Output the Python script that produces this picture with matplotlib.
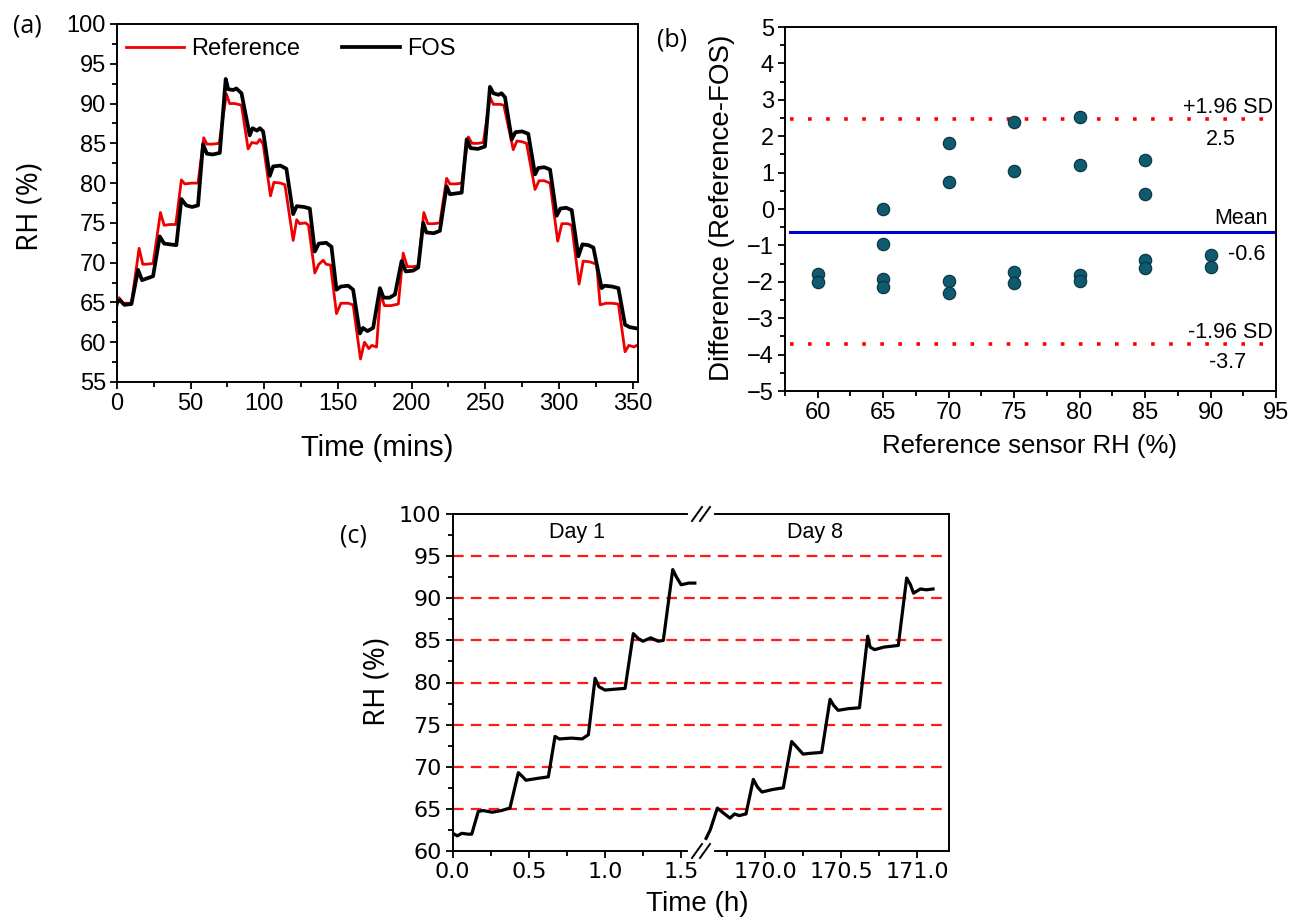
import matplotlib
matplotlib.use('Agg')
import matplotlib.pyplot as plt
from matplotlib.lines import Line2D
from matplotlib.ticker import MultipleLocator, FormatStrFormatter

plt.rcParams['font.family'] = ['Liberation Sans', 'DejaVu Sans']

# ---- panel (a): RH vs time, reference sensor and FOS ----
ref_t = [0, 1.4, 4, 9.8, 15, 17.5, 20, 24.5, 29.5, 32, 36, 39.9, 43.7, 46, 51, 55,
         58.9, 61, 65, 69.4, 74.3, 76.5, 80, 84.5, 89, 91.5, 95, 97, 99.2,
         104.2, 106.5, 111, 114, 119.6, 122, 124, 128, 130, 134.3, 137, 140, 142, 145,
         149, 152, 157, 160.3, 165.3, 168, 171, 173, 176.2, 178.9, 181.5, 186, 191,
         194.3, 197, 201, 204.5, 208.3, 211, 215, 219.2, 223.8, 226, 230, 234,
         238.5, 241, 245, 248.7, 253.2, 255.5, 260, 262.6, 269, 271.5, 275, 278,
         283.8, 286.5, 290, 294, 299.2, 302, 306, 308.7, 313.7, 316.5, 321, 325.6,
         328, 332, 336, 340.4, 344.9, 347.5, 351, 353.7]
ref_rh = [64.6, 65.6, 64.9, 64.9, 71.8, 69.8, 69.8, 69.9, 76.3, 74.7, 74.8, 74.8, 80.4, 79.9, 80.0, 80.0,
          85.7, 84.9, 84.9, 85.0, 91.2, 90.0, 90.0, 89.8, 84.3, 85.1, 85.0, 85.5, 84.9,
          78.4, 80.1, 80.0, 79.8, 72.8, 75.4, 74.9, 75.0, 74.7, 68.7, 69.8, 70.3, 69.8, 69.7,
          63.6, 64.9, 64.9, 64.7, 57.9, 60.0, 59.2, 59.6, 59.4, 66.2, 64.6, 64.6, 64.8,
          71.2, 69.5, 69.5, 69.6, 76.3, 74.9, 74.9, 75.0, 80.6, 79.9, 79.9, 80.0,
          85.8, 85.0, 85.0, 85.1, 90.8, 89.9, 89.9, 89.8, 84.2, 85.3, 85.2, 85.0,
          79.2, 80.3, 80.3, 80.0, 72.7, 74.9, 74.9, 74.7, 67.3, 70.2, 70.1, 69.8,
          64.7, 64.9, 64.9, 64.8, 58.8, 59.6, 59.4, 59.7]

fos_t = [0, 2, 5, 9.8, 14.3, 17, 20, 24.5, 29, 32, 36, 40.3, 43.7, 47, 51, 55,
         58.4, 61, 65, 69.8, 73.8, 75.5, 79, 81, 84.5, 90.1, 92, 95, 97, 99.2,
         103.7, 106, 111, 115, 119.6, 122, 127, 130.9, 134.3, 137, 142, 145.6,
         149, 152, 157, 160.3, 164.9, 167, 170, 173.9, 178.5, 181, 185, 188.7,
         193.2, 196, 201, 204.5, 207.9, 210, 215, 219.2, 223.8, 226, 230, 234,
         237.4, 240, 245, 249.8, 253.2, 255.5, 259, 261, 263.4, 268, 270.5, 275, 279.2,
         283.8, 286, 290, 294, 298.5, 301, 305, 308.7, 313.2, 316, 320, 323.4,
         329, 331, 336, 340.4, 344.9, 348, 353.7]
fos_rh = [65.0, 65.3, 64.7, 64.8, 69.1, 67.8, 68.0, 68.3, 73.3, 72.4, 72.3, 72.2, 78.0, 77.2, 77.0, 77.2,
          84.9, 83.7, 83.6, 83.8, 93.1, 91.8, 91.7, 91.9, 91.3, 86.0, 86.9, 86.6, 86.9, 86.5,
          80.9, 82.1, 82.2, 81.8, 76.1, 77.1, 77.0, 76.8, 71.4, 72.4, 72.5, 72.0,
          66.6, 67.0, 67.1, 66.6, 61.1, 61.8, 61.4, 61.8, 66.8, 65.6, 65.6, 66.0,
          70.2, 68.9, 69.0, 69.4, 75.0, 73.8, 73.7, 74.0, 79.6, 78.6, 78.7, 78.8,
          85.5, 84.4, 84.3, 84.6, 92.1, 91.3, 91.1, 91.3, 90.8, 85.5, 86.4, 86.5, 86.2,
          81.1, 81.9, 82.0, 81.7, 75.9, 76.8, 76.9, 76.6, 70.8, 72.3, 72.2, 71.9,
          66.8, 67.1, 67.0, 66.8, 62.2, 61.9, 61.7]

# ---- panel (b): Bland-Altman ----
ba_x = [60, 60, 65, 65, 65, 65, 70, 70, 70, 70, 75, 75, 75, 75,
        80, 80, 80, 80, 85, 85, 85, 85, 90, 90]
ba_diff = [-1.79, -2.0, 0.0, -0.95, -1.91, -2.15, 1.80, 0.75, -1.97, -2.32, 2.40, 1.05, -1.74, -2.04,
           2.54, 1.21, -1.81, -1.98, 1.35, 0.41, -1.40, -1.63, -1.25, -1.59]
ba_mean = -0.64
ba_upper = 2.47
ba_lower = -3.72

# ---- panel (c): repeatability, day 1 and day 8 ----
day1_t = [0.0, 0.03, 0.06, 0.10, 0.125, 0.168, 0.20, 0.26, 0.32, 0.376, 0.431, 0.46, 0.48, 0.55, 0.628,
          0.672, 0.70, 0.78, 0.85, 0.891, 0.935, 0.96, 1.0, 1.06, 1.132, 1.186, 1.22, 1.25, 1.30,
          1.35, 1.383, 1.445, 1.47, 1.50, 1.55, 1.59]
day1_rh = [62.1, 61.8, 62.1, 62.0, 62.0, 64.7, 64.8, 64.6, 64.8, 65.1, 69.3, 68.8, 68.4, 68.6, 68.8,
           73.6, 73.3, 73.4, 73.3, 73.8, 80.5, 79.5, 79.1, 79.2, 79.3, 85.8, 85.2, 84.9, 85.3,
           84.9, 85.0, 93.4, 92.5, 91.6, 91.8, 91.8]
day8_t = [169.613, 169.64, 169.687, 169.72, 169.77, 169.80, 169.83, 169.875, 169.923, 169.95, 169.98,
          170.05, 170.12, 170.175, 170.21, 170.25, 170.30, 170.372, 170.427, 170.45, 170.48, 170.55,
          170.62, 170.674, 170.69, 170.72, 170.78, 170.875, 170.93, 170.955, 170.975, 171.02,
          171.06, 171.103]
day8_rh = [61.5, 62.5, 65.1, 64.6, 63.9, 64.4, 64.2, 64.4, 68.5, 67.6, 67.0,
           67.3, 67.5, 73.0, 72.3, 71.5, 71.6, 71.7, 78.0, 77.3, 76.7, 76.9,
           77.0, 85.5, 84.2, 83.9, 84.2, 84.4, 92.4, 91.6, 90.6, 91.1,
           91.0, 91.1]
rh_levels = [65, 70, 75, 80, 85, 90, 95]

W, H = 1290, 917
fig = plt.figure(figsize=(W / 100, H / 100), dpi=100)


def box(l, t, r, b):
    return [l / W, 1 - b / H, (r - l) / W, (b - t) / H]


def style(ax, size, family='Liberation Sans'):
    for s in ax.spines.values():
        s.set_linewidth(1.4)
    ax.tick_params(which='both', direction='out', width=1.3, labelsize=size, pad=3)
    ax.tick_params(which='major', length=5)
    ax.tick_params(which='minor', length=3.5)
    for lab in ax.get_xticklabels() + ax.get_yticklabels():
        lab.set_family(family)


def ftext(x, y, s, **kw):
    fig.text(x / W, 1 - y / H, s, ha='center', va='center', **kw)


# (a)
ax1 = fig.add_axes(box(117, 24, 638, 382))
ax1.plot(ref_t, ref_rh, color='#ee0000', lw=2.0, label='Reference')
ax1.plot(fos_t, fos_rh, color='black', lw=2.7, label='FOS')
ax1.set_xlim(0, 353.7)
ax1.set_ylim(55, 100)
ax1.xaxis.set_major_locator(MultipleLocator(50))
ax1.xaxis.set_minor_locator(MultipleLocator(25))
ax1.yaxis.set_major_locator(MultipleLocator(5))
ax1.yaxis.set_minor_locator(MultipleLocator(2.5))
style(ax1, 17)
ax1.legend(loc='upper left', bbox_to_anchor=(-0.024, 1.02), ncol=2, frameon=False, fontsize=17,
           handlelength=2.45, handletextpad=0.3, columnspacing=1.8)
ftext(377, 448, 'Time (mins)', fontsize=21)
ftext(30, 207, 'RH (%)', fontsize=21, rotation=90, family='Open Sans')
ftext(27, 26, '(a)', fontsize=18, family='Open Sans')

# (b)
ax2 = fig.add_axes(box(785, 27, 1276, 391))
ax2.scatter(ba_x, ba_diff, s=80, color='#0f5a6e', edgecolors='#08323e', linewidths=0.8, zorder=3)
ax2.axhline(ba_mean, xmin=0.01, color='#0000cc', lw=2.2)
ax2.axhline(ba_upper, xmin=0.01, color='#ff0000', lw=2.6, linestyle=(0, (1, 4)))
ax2.axhline(ba_lower, xmin=0.01, color='#ff0000', lw=2.6, linestyle=(0, (1, 4)))
ax2.set_xlim(57.5, 95)
ax2.set_ylim(-5, 5)
ax2.xaxis.set_major_locator(MultipleLocator(5))
ax2.xaxis.set_minor_locator(MultipleLocator(2.5))
ax2.yaxis.set_major_locator(MultipleLocator(1))
ax2.yaxis.set_minor_locator(MultipleLocator(0.5))
style(ax2, 17)
ax2.text(94.75, ba_upper + 0.33, '+1.96 SD', ha='right', va='center', fontsize=15.5)
ax2.text(90.8, ba_upper - 0.57, '%.1f' % ba_upper, ha='center', va='center', fontsize=15.5)
ax2.text(94.4, ba_mean + 0.39, 'Mean', ha='right', va='center', fontsize=15.5)
ax2.text(92.75, ba_mean - 0.62, '%.1f' % ba_mean, ha='center', va='center', fontsize=15.5)
ax2.text(94.75, ba_lower + 0.34, '-1.96 SD', ha='right', va='center', fontsize=15.5)
ax2.text(91.3, ba_lower - 0.51, '%.1f' % ba_lower, ha='center', va='center', fontsize=15.5)
ftext(1030, 446, 'Reference sensor RH (%)', fontsize=18.5)
ftext(722, 208, 'Difference (Reference-FOS)', fontsize=20, rotation=90)
ftext(672, 40, '(b)', fontsize=18, family='Open Sans')

# (c) broken time axis
ax3 = fig.add_axes(box(452.7, 514, 700, 851))
ax4 = fig.add_axes(box(700, 514, 949.3, 851))
ax3.plot(day1_t, day1_rh, color='black', lw=2.3)
ax4.plot(day8_t, day8_rh, color='black', lw=2.3)
for ax in (ax3, ax4):
    for lvl in rh_levels:
        ax.axhline(lvl, color='#ff1a1a', lw=1.6, dashes=(4.8, 3.2), zorder=1)
    ax.set_ylim(60, 100)
    ax.xaxis.set_major_locator(MultipleLocator(0.5))
    ax.xaxis.set_minor_locator(MultipleLocator(0.25))
    ax.yaxis.set_major_locator(MultipleLocator(5))
    ax.yaxis.set_minor_locator(MultipleLocator(2.5))
    ax.xaxis.set_major_formatter(FormatStrFormatter('%.1f'))
ax3.set_xlim(0, 1.624)
ax4.set_xlim(169.573, 171.21)
ax3.spines['right'].set_visible(False)
ax4.spines['left'].set_visible(False)
style(ax3, 16, 'DejaVu Sans')
style(ax4, 16, 'DejaVu Sans')
ax4.tick_params(which='both', left=False, labelleft=False)
ax3.text(0.503, 0.944, 'Day 1', transform=ax3.transAxes, ha='center', va='center', fontsize=15.5)
ax4.text(0.461, 0.944, 'Day 8', transform=ax4.transAxes, ha='center', va='center', fontsize=15.5)

# break marks
for yc in (514, 851):
    fig.add_artist(Line2D([690 / W, 712 / W], [1 - yc / H, 1 - yc / H], color='white', lw=3))
    for xc in (697, 705):
        fig.add_artist(Line2D([(xc - 5) / W, (xc + 5) / W], [1 - (yc + 7) / H, 1 - (yc - 7) / H],
                              color='black', lw=1.4))

ftext(697, 904, 'Time (h)', fontsize=20)
ftext(377, 682, 'RH (%)', fontsize=21, rotation=90, family='Open Sans')
ftext(353, 536, '(c)', fontsize=18, family='Open Sans')

fig.savefig('out.png', dpi=100)
